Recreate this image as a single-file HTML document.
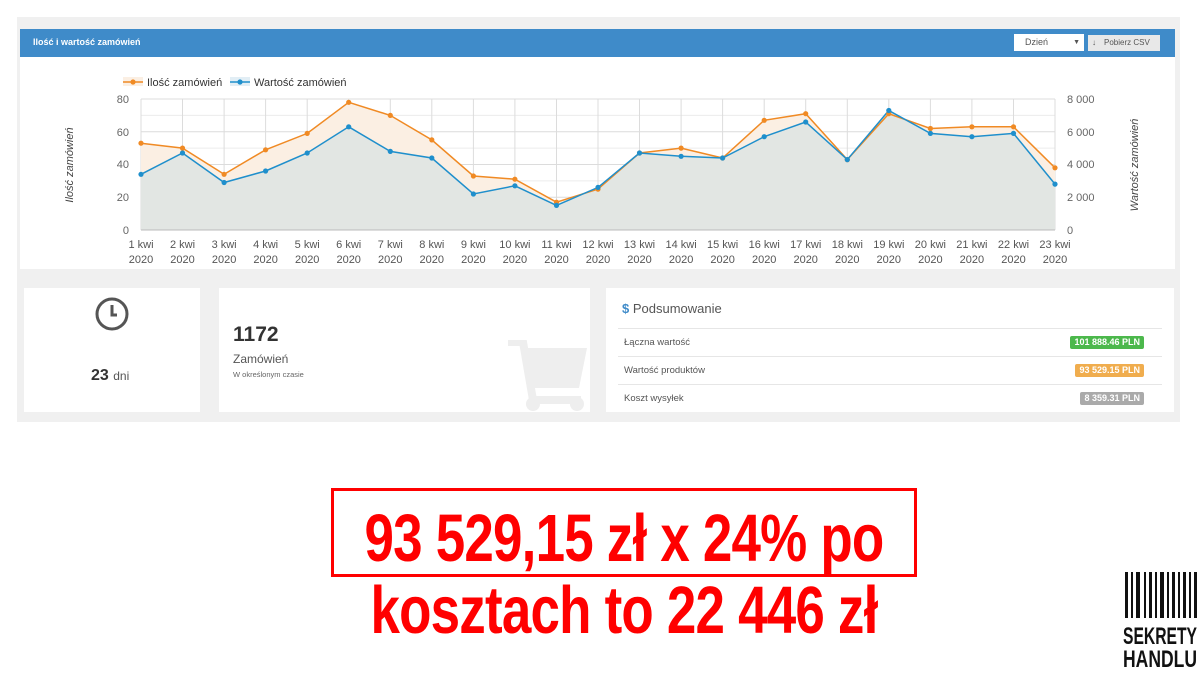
<!DOCTYPE html>
<html><head><meta charset="utf-8"><style>
body{margin:0;width:1199px;height:673px;background:#fff;font-family:"Liberation Sans",sans-serif;position:relative;overflow:hidden}
.abs{position:absolute}
.card{position:absolute;background:#fff}
.badge{position:absolute;right:18px;color:#fff;font-size:9px;font-weight:bold;padding:1px 4px;border-radius:2px}
.row{position:absolute;left:12px;right:12px;border-top:1px solid #e6e6e6;height:27px;font-size:9.5px;color:#555;line-height:27px;padding-left:6px}
.big{position:absolute;left:124px;width:1000px;text-align:center;color:#f00;font-weight:bold;font-size:67px;line-height:67px;transform:scaleX(0.79);transform-origin:500px 0;letter-spacing:-1px}
</style></head><body>
<div class="abs" style="left:17px;top:17px;width:1163px;height:405px;background:#f0f0f0"></div>
<div class="abs" style="left:20px;top:29px;width:1155px;height:28px;background:#3f8bc9"></div>
<div class="abs" style="left:33px;top:37px;color:#fff;font-size:9px;font-weight:bold">Ilość i wartość zamówień</div>
<div class="abs" style="left:1014px;top:34px;width:70px;height:17px;background:#fff;font-size:9px;color:#555;line-height:17px;text-indent:11px">Dzień<span style="position:absolute;right:4px;font-size:7px">▼</span></div>
<div class="abs" style="left:1088px;top:35px;width:72px;height:16px;background:#e8e8e8;font-size:8px;color:#555;line-height:16px"><span style="margin-left:4px">↓</span><span style="margin-left:8px">Pobierz CSV</span></div>
<div class="abs" style="left:20px;top:57px;width:1155px;height:212px;background:#fff"></div>
<svg class="abs" style="left:0;top:0" width="1199" height="280" font-family="Liberation Sans, sans-serif">
<g stroke="#ececec" stroke-width="1">
<line x1="141" y1="115.4" x2="1055" y2="115.4"/><line x1="141" y1="148.1" x2="1055" y2="148.1"/><line x1="141" y1="180.9" x2="1055" y2="180.9"/><line x1="141" y1="213.6" x2="1055" y2="213.6"/>
</g>
<g stroke="#dcdcdc" stroke-width="1">
<line x1="141" y1="99" x2="1055" y2="99"/><line x1="141" y1="131.8" x2="1055" y2="131.8"/><line x1="141" y1="164.5" x2="1055" y2="164.5"/><line x1="141" y1="197.3" x2="1055" y2="197.3"/>
<path d="M141 99V230M182.5 99V230M224.1 99V230M265.6 99V230M307.2 99V230M348.7 99V230M390.3 99V230M431.8 99V230M473.4 99V230M514.9 99V230M556.5 99V230M598 99V230M639.5 99V230M681.1 99V230M722.6 99V230M764.2 99V230M805.7 99V230M847.3 99V230M888.8 99V230M930.4 99V230M971.9 99V230M1013.5 99V230M1055 99V230"/>
</g>
<polygon fill="#fbefe3" points="141,230 141,143.2 182.5,148.1 224.1,174.3 265.6,149.8 307.2,133.4 348.7,102.3 390.3,115.4 431.8,139.9 473.4,176 514.9,179.2 556.5,202.2 598,189.1 639.5,153 681.1,148.1 722.6,158 764.2,120.3 805.7,113.7 847.3,159.6 888.8,113.7 930.4,128.5 971.9,126.8 1013.5,126.8 1055,167.8 1055,230"/>
<polygon fill="#e2e6e3" points="141,230 141,174.3 182.5,153 224.1,182.5 265.6,171 307.2,153 348.7,126.8 390.3,151.4 431.8,158 473.4,194 514.9,185.8 556.5,205.4 598,187.4 639.5,153 681.1,156.3 722.6,158 764.2,136.7 805.7,122 847.3,159.6 888.8,110.5 930.4,133.4 971.9,136.7 1013.5,133.4 1055,184.1 1055,230"/>
<line x1="141" y1="230" x2="1055" y2="230" stroke="#bbb"/>
<polyline fill="none" stroke="#f08a24" stroke-width="1.5" points="141,143.2 182.5,148.1 224.1,174.3 265.6,149.8 307.2,133.4 348.7,102.3 390.3,115.4 431.8,139.9 473.4,176 514.9,179.2 556.5,202.2 598,189.1 639.5,153 681.1,148.1 722.6,158 764.2,120.3 805.7,113.7 847.3,159.6 888.8,113.7 930.4,128.5 971.9,126.8 1013.5,126.8 1055,167.8"/>
<polyline fill="none" stroke="#1f8fcc" stroke-width="1.5" points="141,174.3 182.5,153 224.1,182.5 265.6,171 307.2,153 348.7,126.8 390.3,151.4 431.8,158 473.4,194 514.9,185.8 556.5,205.4 598,187.4 639.5,153 681.1,156.3 722.6,158 764.2,136.7 805.7,122 847.3,159.6 888.8,110.5 930.4,133.4 971.9,136.7 1013.5,133.4 1055,184.1"/>
<g fill="#f08a24">
<circle cx="141" cy="143.2" r="2.6"/><circle cx="182.5" cy="148.1" r="2.6"/><circle cx="224.1" cy="174.3" r="2.6"/><circle cx="265.6" cy="149.8" r="2.6"/><circle cx="307.2" cy="133.4" r="2.6"/><circle cx="348.7" cy="102.3" r="2.6"/><circle cx="390.3" cy="115.4" r="2.6"/><circle cx="431.8" cy="139.9" r="2.6"/><circle cx="473.4" cy="176" r="2.6"/><circle cx="514.9" cy="179.2" r="2.6"/><circle cx="556.5" cy="202.2" r="2.6"/><circle cx="598" cy="189.1" r="2.6"/><circle cx="639.5" cy="153" r="2.6"/><circle cx="681.1" cy="148.1" r="2.6"/><circle cx="722.6" cy="158" r="2.6"/><circle cx="764.2" cy="120.3" r="2.6"/><circle cx="805.7" cy="113.7" r="2.6"/><circle cx="847.3" cy="159.6" r="2.6"/><circle cx="888.8" cy="113.7" r="2.6"/><circle cx="930.4" cy="128.5" r="2.6"/><circle cx="971.9" cy="126.8" r="2.6"/><circle cx="1013.5" cy="126.8" r="2.6"/><circle cx="1055" cy="167.8" r="2.6"/>
</g>
<g fill="#1f8fcc">
<circle cx="141" cy="174.3" r="2.6"/><circle cx="182.5" cy="153" r="2.6"/><circle cx="224.1" cy="182.5" r="2.6"/><circle cx="265.6" cy="171" r="2.6"/><circle cx="307.2" cy="153" r="2.6"/><circle cx="348.7" cy="126.8" r="2.6"/><circle cx="390.3" cy="151.4" r="2.6"/><circle cx="431.8" cy="158" r="2.6"/><circle cx="473.4" cy="194" r="2.6"/><circle cx="514.9" cy="185.8" r="2.6"/><circle cx="556.5" cy="205.4" r="2.6"/><circle cx="598" cy="187.4" r="2.6"/><circle cx="639.5" cy="153" r="2.6"/><circle cx="681.1" cy="156.3" r="2.6"/><circle cx="722.6" cy="158" r="2.6"/><circle cx="764.2" cy="136.7" r="2.6"/><circle cx="805.7" cy="122" r="2.6"/><circle cx="847.3" cy="159.6" r="2.6"/><circle cx="888.8" cy="110.5" r="2.6"/><circle cx="930.4" cy="133.4" r="2.6"/><circle cx="971.9" cy="136.7" r="2.6"/><circle cx="1013.5" cy="133.4" r="2.6"/><circle cx="1055" cy="184.1" r="2.6"/>
</g>
<g font-size="11" fill="#666" text-anchor="end">
<text x="129" y="103">80</text><text x="129" y="136">60</text><text x="129" y="168">40</text><text x="129" y="201">20</text><text x="129" y="234">0</text>
</g>
<g font-size="11" fill="#666" text-anchor="start">
<text x="1067" y="103">8 000</text><text x="1067" y="136">6 000</text><text x="1067" y="168">4 000</text><text x="1067" y="201">2 000</text><text x="1067" y="234">0</text>
</g>
<text transform="translate(73,165) rotate(-90)" font-size="11" font-style="italic" fill="#444" text-anchor="middle">Ilość zamówień</text>
<text transform="translate(1138,165) rotate(-90)" font-size="11" font-style="italic" fill="#444" text-anchor="middle">Wartość zamówień</text>
<g font-size="11" fill="#555" text-anchor="middle">
<text x="141" y="248">1 kwi</text><text x="182.5" y="248">2 kwi</text><text x="224.1" y="248">3 kwi</text><text x="265.6" y="248">4 kwi</text><text x="307.2" y="248">5 kwi</text><text x="348.7" y="248">6 kwi</text><text x="390.3" y="248">7 kwi</text><text x="431.8" y="248">8 kwi</text><text x="473.4" y="248">9 kwi</text><text x="514.9" y="248">10 kwi</text><text x="556.5" y="248">11 kwi</text><text x="598" y="248">12 kwi</text><text x="639.5" y="248">13 kwi</text><text x="681.1" y="248">14 kwi</text><text x="722.6" y="248">15 kwi</text><text x="764.2" y="248">16 kwi</text><text x="805.7" y="248">17 kwi</text><text x="847.3" y="248">18 kwi</text><text x="888.8" y="248">19 kwi</text><text x="930.4" y="248">20 kwi</text><text x="971.9" y="248">21 kwi</text><text x="1013.5" y="248">22 kwi</text><text x="1055" y="248">23 kwi</text>
<text x="141" y="263">2020</text><text x="182.5" y="263">2020</text><text x="224.1" y="263">2020</text><text x="265.6" y="263">2020</text><text x="307.2" y="263">2020</text><text x="348.7" y="263">2020</text><text x="390.3" y="263">2020</text><text x="431.8" y="263">2020</text><text x="473.4" y="263">2020</text><text x="514.9" y="263">2020</text><text x="556.5" y="263">2020</text><text x="598" y="263">2020</text><text x="639.5" y="263">2020</text><text x="681.1" y="263">2020</text><text x="722.6" y="263">2020</text><text x="764.2" y="263">2020</text><text x="805.7" y="263">2020</text><text x="847.3" y="263">2020</text><text x="888.8" y="263">2020</text><text x="930.4" y="263">2020</text><text x="971.9" y="263">2020</text><text x="1013.5" y="263">2020</text><text x="1055" y="263">2020</text>
</g>
<rect x="123" y="77" width="20" height="9" fill="#fbefe3"/><line x1="123" y1="82" x2="143" y2="82" stroke="#f08a24" stroke-width="1.5"/><circle cx="133" cy="82" r="2.6" fill="#f08a24"/>
<text x="147" y="86" font-size="11" fill="#333">Ilość zamówień</text>
<rect x="230" y="77" width="20" height="9" fill="#e2eef5"/><line x1="230" y1="82" x2="250" y2="82" stroke="#1f8fcc" stroke-width="1.5"/><circle cx="240" cy="82" r="2.6" fill="#1f8fcc"/>
<text x="254" y="86" font-size="11" fill="#333">Wartość zamówień</text>
</svg>

<div class="card" style="left:24px;top:288px;width:176px;height:124px"></div>
<svg class="abs" style="left:94px;top:296px" width="36" height="36"><circle cx="18" cy="18" r="15" fill="none" stroke="#555" stroke-width="3"/><path d="M18 9V19H23" fill="none" stroke="#555" stroke-width="3"/></svg>
<div class="abs" style="left:91px;top:367px;font-size:16px;color:#333"><b>23</b> <span style="font-size:12px;color:#555">dni</span></div>

<div class="card" style="left:219px;top:288px;width:371px;height:124px"></div>
<svg class="abs" style="left:505px;top:340px" width="85" height="72"><path d="M3 2H18L28 60H76" fill="none" stroke="#eee" stroke-width="8"/><path d="M18 8H82L74 48H26Z" fill="#eee"/><circle cx="28" cy="64" r="7" fill="#eee"/><circle cx="72" cy="64" r="7" fill="#eee"/></svg>
<div class="abs" style="left:233px;top:323px;font-size:21px;font-weight:bold;color:#333">1172</div>
<div class="abs" style="left:233px;top:352px;font-size:12px;color:#555">Zamówień</div>
<div class="abs" style="left:233px;top:370px;font-size:7.5px;color:#666">W określonym czasie</div>

<div class="card" style="left:606px;top:288px;width:568px;height:124px">
<div class="abs" style="left:16px;top:13px;font-size:13px;color:#555"><b style="color:#3f8bc9">$</b> Podsumowanie</div>
<div class="row" style="top:40px">Łączna wartość<span class="badge" style="top:7px;line-height:11px;background:#4cb84c">101 888.46 PLN</span></div>
<div class="row" style="top:68px">Wartość produktów<span class="badge" style="top:7px;line-height:11px;background:#f0ad4e">93 529.15 PLN</span></div>
<div class="row" style="top:96px">Koszt wysyłek<span class="badge" style="top:7px;line-height:11px;background:#aaa">8 359.31 PLN</span></div>
</div>

<div class="abs" style="left:331px;top:488px;width:580px;height:83px;border:3px solid #f00"></div>
<div class="big" style="top:505px">93 529,15 zł x 24% po</div>
<div class="big" style="top:577px">kosztach to 22 446 zł</div>

<svg class="abs" style="left:1120px;top:568px" width="79" height="105">
<g fill="#111"><rect x="5" y="4" width="3" height="46"/><rect x="11" y="4" width="2" height="46"/><rect x="16" y="4" width="4" height="46"/><rect x="24" y="4" width="2" height="46"/><rect x="29" y="4" width="3" height="46"/><rect x="35" y="4" width="2" height="46"/><rect x="40" y="4" width="4" height="46"/><rect x="47" y="4" width="2" height="46"/><rect x="52" y="4" width="3" height="46"/><rect x="58" y="4" width="2" height="46"/><rect x="63" y="4" width="3" height="46"/><rect x="69" y="4" width="2" height="46"/><rect x="74" y="4" width="3" height="46"/></g>
<text x="3" y="76" textLength="74" lengthAdjust="spacingAndGlyphs" font-family="Liberation Sans, sans-serif" font-weight="bold" font-size="24" fill="#111">SEKRETY</text>
<text x="3" y="99" textLength="74" lengthAdjust="spacingAndGlyphs" font-family="Liberation Sans, sans-serif" font-weight="bold" font-size="24" fill="#111">HANDLU</text>
</svg>
</body></html>
